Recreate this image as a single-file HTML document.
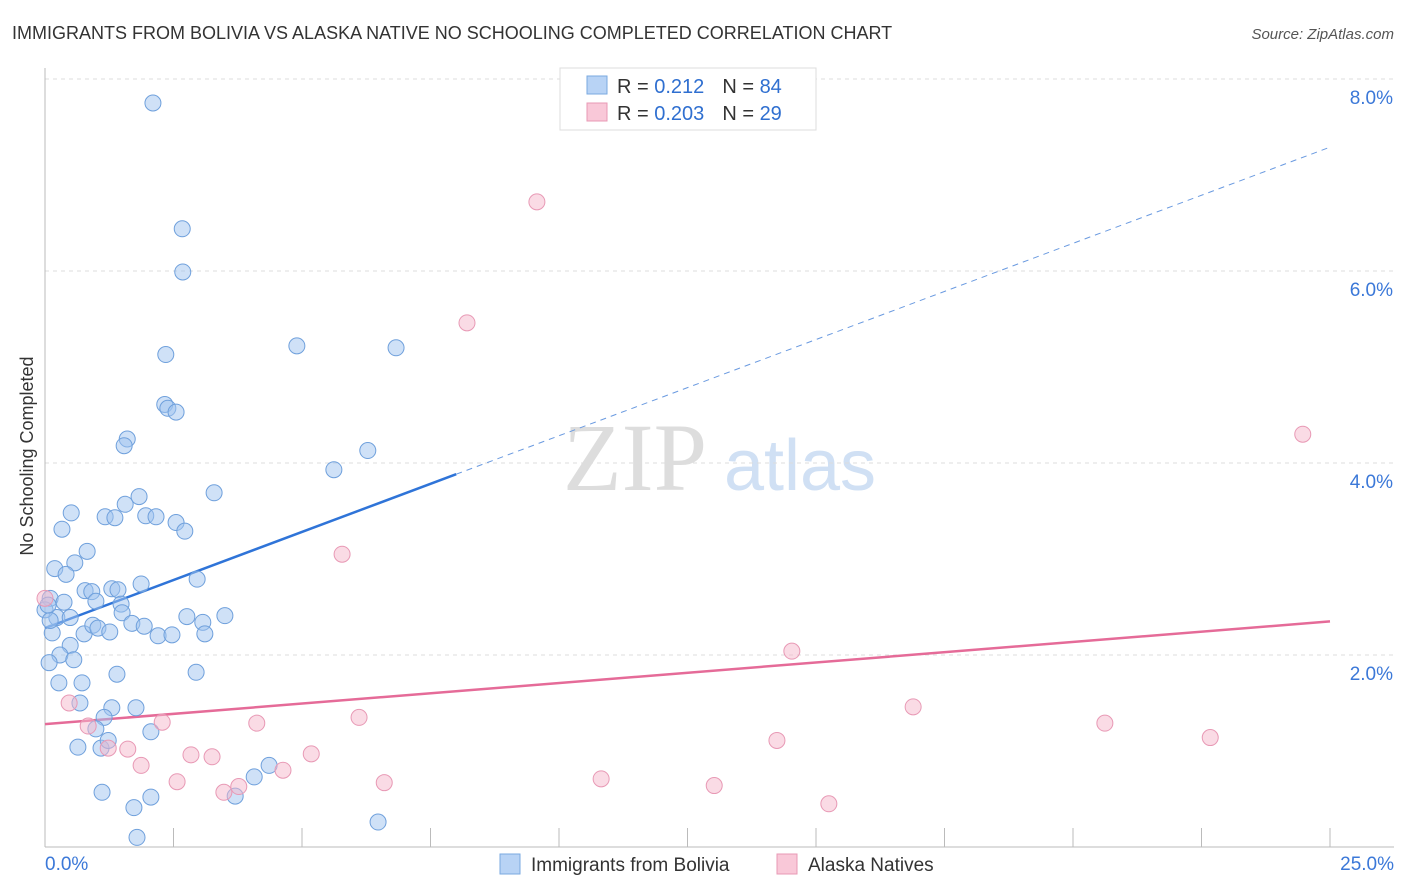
<!DOCTYPE html>
<html><head><meta charset="utf-8"><style>
body{margin:0;background:#fff;font-family:"Liberation Sans",sans-serif}
svg{display:block}
</style></head><body>
<svg id="c" width="1406" height="892" xmlns="http://www.w3.org/2000/svg">
<text x="12" y="39" font-size="18" fill="#333">IMMIGRANTS FROM BOLIVIA VS ALASKA NATIVE NO SCHOOLING COMPLETED CORRELATION CHART</text>
<text x="1394" y="39" font-size="15" fill="#555" font-style="italic" text-anchor="end">Source: ZipAtlas.com</text>
<text x="33" y="456" font-size="18" fill="#333" text-anchor="middle" transform="rotate(-90 33 456)">No Schooling Completed</text>
<g><text x="635" y="490" font-size="96" fill="#ddd" font-family="Liberation Serif,serif" text-anchor="middle">ZIP</text><text x="800" y="490" font-size="72" fill="#d0e0f4" text-anchor="middle">atlas</text></g>
<g id="grid"></g><g id="axes"></g><g id="trend"></g><g id="pts"></g>
<g>
<rect x="560" y="68" width="256" height="62" fill="#fff" stroke="#ddd"/>
<rect x="587" y="76" width="20" height="18" fill="#b8d3f5" stroke="#7aaae0"/>
<rect x="587" y="103" width="20" height="18" fill="#f9c8d8" stroke="#e899b5"/>
<text x="617" y="93" font-size="20" fill="#333">R = <tspan fill="#2f6fd0"> 0.212</tspan><tspan dx="18">N = </tspan><tspan fill="#2f6fd0">84</tspan></text>
<text x="617" y="120" font-size="20" fill="#333">R = <tspan fill="#2f6fd0">0.203</tspan><tspan dx="18">N = </tspan><tspan fill="#2f6fd0">29</tspan></text>
</g>
<g>
<rect x="500" y="854" width="20" height="20" fill="#b8d3f5" stroke="#7aaae0"/>
<text x="531" y="871" font-size="19" fill="#333">Immigrants from Bolivia</text>
<rect x="777" y="854" width="20" height="20" fill="#f9c8d8" stroke="#e899b5"/>
<text x="808" y="871" font-size="19" fill="#333">Alaska Natives</text>
</g>
</svg>
<script>
const xTickLabels=["0.0%","25.0%"];
const yTicks=[2,4,6,8];
const yTickLabels=["2.0%","4.0%","6.0%","8.0%"];
const blueX=[2.10,2.67,2.68,2.35,4.90,6.83,2.33,2.39,2.55,1.60,1.54,5.62,6.28,3.29,0.51,0.33,1.17,1.36,1.56,1.83,1.96,2.16,2.55,2.72,0.82,0.58,0.19,0.41,0.78,0.91,1.30,1.42,1.87,2.96,0.10,0.37,0.99,1.48,1.50,0.23,0.49,0.14,0.76,0.93,1.03,1.26,1.69,1.93,2.20,2.47,2.76,3.07,3.11,3.50,0.49,0.29,0.56,0.08,0.27,0.72,1.40,2.94,0.68,1.30,1.77,1.15,0.99,2.06,0.64,1.09,1.23,4.36,4.07,1.11,2.06,1.73,3.70,1.79,6.48,0,0.10,0.06];
const blueY=[7.75,6.44,5.99,5.13,5.22,5.20,4.61,4.57,4.53,4.25,4.18,3.93,4.13,3.69,3.48,3.31,3.44,3.43,3.57,3.65,3.45,3.44,3.38,3.29,3.08,2.96,2.90,2.84,2.67,2.66,2.69,2.68,2.74,2.79,2.59,2.55,2.56,2.53,2.44,2.39,2.39,2.23,2.22,2.31,2.28,2.24,2.33,2.30,2.20,2.21,2.40,2.34,2.22,2.41,2.10,2.00,1.95,1.92,1.71,1.71,1.80,1.82,1.50,1.45,1.45,1.35,1.23,1.20,1.04,1.03,1.11,0.85,0.73,0.57,0.52,0.41,0.53,0.10,0.26,2.47,2.36,2.52];
const pinkX=[9.57,8.21,24.47,5.78,14.53,16.89,20.62,22.67,6.11,4.12,2.28,0.84,0.47,1.61,1.23,1.87,2.84,3.25,5.18,4.63,14.24,2.57,3.48,3.77,6.60,10.82,13.02,15.25,0];
const pinkY=[6.72,5.46,4.30,3.05,2.04,1.46,1.29,1.14,1.35,1.29,1.30,1.26,1.50,1.02,1.03,0.85,0.96,0.94,0.97,0.80,1.11,0.68,0.57,0.63,0.67,0.71,0.64,0.45,2.59];
const blueTrend=[2.28,7.29]; const pinkTrend=[1.28,2.35];
const sx=v=>45+v*(1285/25), sy=v=>847-v*96;
const NS="http://www.w3.org/2000/svg";
function mk(p,t,a){const e=document.createElementNS(NS,t);for(const k in a)e.setAttribute(k,a[k]);document.getElementById(p).appendChild(e);return e;}
yTicks.forEach((t,i)=>{
 const l=mk('grid','line',{x1:45,x2:1394,y1:sy(t),y2:sy(t),stroke:'#ddd','stroke-dasharray':'4,4'});
 
 
 const tx=mk('grid','text',{x:1393,y:sy(t)+25,'font-size':19,fill:'#3b78d8','text-anchor':'end'});
 tx.textContent=yTickLabels[i];
 
 
});
const ax=mk('axes','line',{x1:45,x2:45,y1:68,y2:847,stroke:'#bbb'});


const bx=mk('axes','line',{x1:45,x2:1394,y1:847,y2:847,stroke:'#bbb'});


for(let i=0;i<=10;i++){const t=mk('axes','line',{x1:sx(i*2.5),x2:sx(i*2.5),y1:828,y2:847,stroke:'#bbb'});
 
 }
[[0,'start',45],[25,'end',1394]].forEach((d,i)=>{const t=mk('axes','text',{x:d[2],y:870,'font-size':19,fill:'#3b78d8','text-anchor':d[1]});t.textContent=xTickLabels[i];
 
 });
const bs=(x)=>blueTrend[0]+(blueTrend[1]-blueTrend[0])*x/25;
let t1=mk('trend','line',{x1:sx(0),y1:sy(bs(0)),x2:sx(8),y2:sy(bs(8)),stroke:'#2f74d8','stroke-width':2.5});


let t2=mk('trend','line',{x1:sx(8),y1:sy(bs(8)),x2:sx(25),y2:sy(bs(25)),stroke:'#6a9ae0','stroke-width':1,'stroke-dasharray':'6,5'});


let t3=mk('trend','line',{x1:sx(0),y1:sy(pinkTrend[0]),x2:sx(25),y2:sy(pinkTrend[1]),stroke:'#e56b98','stroke-width':2.5});


blueX.forEach((x,i)=>{const c=mk('pts','circle',{cx:sx(x),cy:sy(blueY[i]),r:8,fill:'rgba(160,196,240,0.5)',stroke:'#6fa0dc','stroke-width':1});
 
 });
pinkX.forEach((x,i)=>{const c=mk('pts','circle',{cx:sx(x),cy:sy(pinkY[i]),r:8,fill:'rgba(246,184,204,0.5)',stroke:'#e899b5','stroke-width':1});
 
 });
</script>
</body></html>
